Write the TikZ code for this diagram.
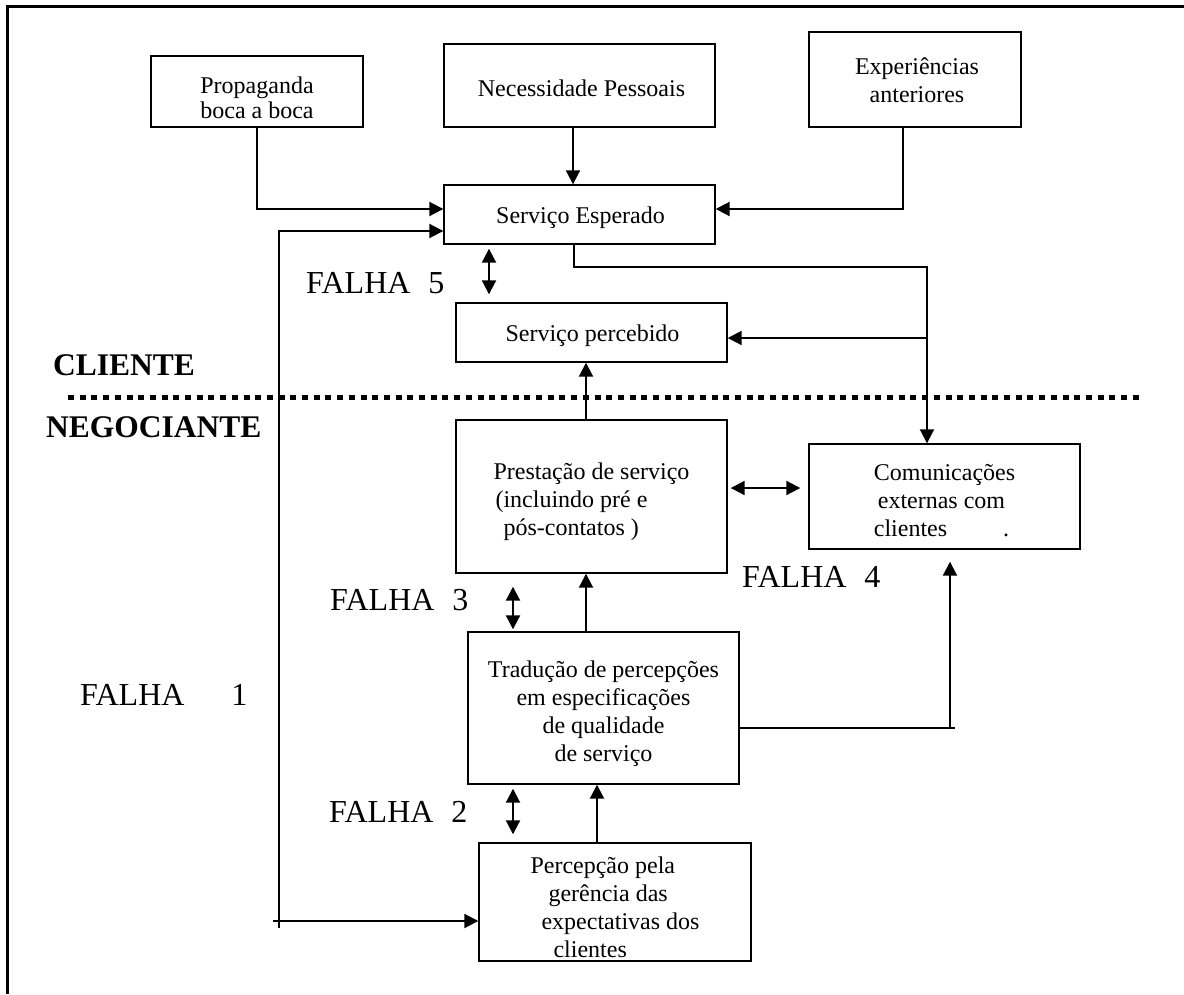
\documentclass[tikz,border=0pt]{standalone}
\usepackage{fontspec}
\setmainfont{Liberation Serif}
\usetikzlibrary{arrows.meta,calc}
\begin{document}
\begin{tikzpicture}[x=1pt,y=-1pt,
  box/.style={draw, line width=1.4pt, inner sep=0pt},
  txt/.style={inner sep=0pt, font=\fontsize{24}{28}\selectfont, align=center},
  link/.style={line width=2pt},
  tip/.style={link, -{Triangle[length=14pt,width=14pt]}},
  both/.style={link, {Triangle[length=14pt,width=14pt]}-{Triangle[length=14pt,width=14pt]}},
  gap/.style={font=\fontsize{32}{36}\selectfont, anchor=base west, inner sep=0pt},
  side/.style={font=\bfseries\fontsize{31.5}{36}\selectfont, anchor=base west, inner sep=0pt}
]
\useasboundingbox (0,0) rectangle (1184,994);

% open frame: top and left edges only
\draw[line width=3pt] (7,994) -- (7,6) -- (1184,6);

% boxes
\node[box, minimum width=212pt, minimum height=71pt] (prop) at (257,91.5) {};
\node[box, minimum width=271pt, minimum height=83pt] (nec) at (579.5,85.5) {};
\node[box, minimum width=212pt, minimum height=95pt] (exp) at (915,79.5) {};
\node[box, minimum width=271pt, minimum height=59pt] (esp) at (579.5,214.5) {};
\node[box, minimum width=271pt, minimum height=59pt] (pcb) at (591.5,332.5) {};
\node[box, minimum width=271pt, minimum height=153pt] (prest) at (591.5,496.5) {};
\node[box, minimum width=271pt, minimum height=105pt] (com) at (944.5,496.5) {};
\node[box, minimum width=271pt, minimum height=152pt] (trad) at (603.5,708) {};
\node[box, minimum width=272pt, minimum height=118pt] (pger) at (615,902) {};

% box texts
\node[txt, font=\fontsize{24}{25}\selectfont] (propT) at ($(prop)+(0,6)$) {Propaganda\\boca a boca};
\node[txt] (necT) at ($(nec)+(2,3)$) {Necessidade Pessoais};
\node[txt] (expT) at ($(exp)+(2,1)$) {Experiências\\anteriores};
\node[txt] (espT) at ($(esp)+(1,3)$) {Serviço Esperado};
\node[txt] (pcbT) at ($(pcb)+(1,3)$) {Serviço percebido};
\node[txt, align=left] (prestT) at ($(prest)+(0,5)$)
  {Prestação de serviço\\\hspace*{2pt}(incluindo pré e\\\hspace*{10pt}pós-contatos )};
\node[txt, align=left] (comT) at ($(com)+(0,4)$)
  {Comunicações\\\hspace*{4pt}externas com\\clientes\hspace*{56pt}.};
\node[txt] (tradT) at ($(trad)+(0,6)$)
  {Tradução de percepções\\em especificações\\de qualidade\\de serviço};
\node[txt, align=left] (pgerT) at ($(pger)+(0,5)$)
  {Percepção pela\\\hspace*{18pt}gerência das\\\hspace*{11pt}expectativas dos\\\hspace*{23pt}clientes};

% client / provider divide
\draw[line width=5pt, dash pattern=on 6pt off 5.7pt] (68,397) -- (1143,397);
\node[side] (cli) at (53,375) {CLIENTE};
\node[side] (neg) at (46,437) {NEGOCIANTE};

% gap labels
\node[gap] (g5) at (306,293) {FALHA\hspace{18pt}5};
\node[gap] (g4) at (742,587) {FALHA\hspace{18pt}4};
\node[gap] (g3) at (330,610) {FALHA\hspace{18pt}3};
\node[gap] (g2) at (329,822) {FALHA\hspace{18pt}2};
\node[gap] (g1) at (80,705) {FALHA\hspace{47pt}1};

% guide coordinates
\coordinate (yA) at (0,209);
\coordinate (xE) at (903,0);
\coordinate (xN) at (573,0);
\coordinate (fbTop) at (279,231);
\coordinate (fbBot) at (279,928);
\coordinate (fbTick) at (273,921);
\coordinate (xS) at (574,0);
\coordinate (yR) at (0,267);
\coordinate (xR) at (927,0);
\coordinate (yP) at (0,338);
\coordinate (x5) at (489,0);
\coordinate (xP) at (586,0);
\coordinate (xT) at (597,0);
\coordinate (x3) at (513,0);
\coordinate (yL) at (0,488);
\coordinate (xC) at (950,0);
\coordinate (yC) at (0,728);
\coordinate (cEnd) at (955,728);

% inputs to the expected service
\draw[tip] (prop.south) |- (esp.west |- yA);
\draw[tip] (nec.south -| xN) -- (esp.north -| xN);
\draw[tip] (exp.south -| xE) |- (esp.east |- yA);
\draw[tip] (fbBot) -- (fbTop) -- (esp.west |- fbTop);
\draw[tip] (fbTick) -- (pger.west |- fbTick);

% expected service to communications and perceived service
\draw[tip] (esp.south -| xS) |- (xR |- yR) -- (com.north -| xR);
\draw[tip] (xR |- yP) -- (pcb.east |- yP);

% chain upward
\draw[tip] (prest.north -| xP) -- (pcb.south -| xP);
\draw[tip] (trad.north -| xP) -- (prest.south -| xP);
\draw[tip] (pger.north -| xT) -- (trad.south -| xT);

% specifications to communications
\draw[link] (trad.east |- yC) -- (cEnd);
\draw[tip, shorten >=12pt] (xC |- yC) -- (com.south -| xC);

% gap arrows
\draw[both, shorten <=4pt, shorten >=8pt] (esp.south -| x5) -- (pcb.north -| x5);
\draw[both, shorten <=13pt, shorten >=2pt] (prest.south -| x3) -- (trad.north -| x3);
\draw[both, shorten <=4pt, shorten >=8pt] (trad.south -| x3) -- (pger.north -| x3);
\draw[both, shorten <=3pt, shorten >=8pt] (prest.east |- yL) -- (com.west |- yL);
\end{tikzpicture}
\end{document}
